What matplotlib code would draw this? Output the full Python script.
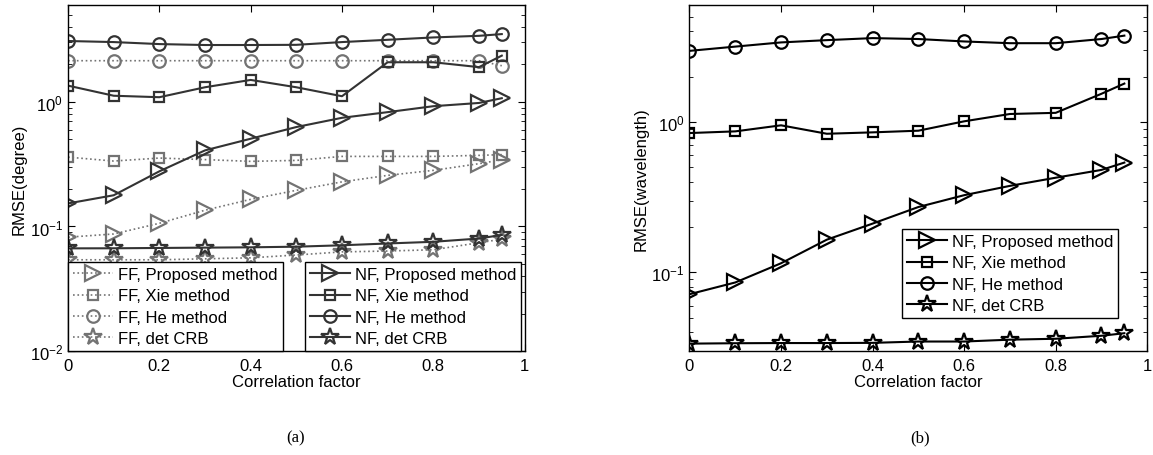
import numpy as np
import matplotlib
matplotlib.use("Agg")
import matplotlib.pyplot as plt
from matplotlib.ticker import LogLocator, NullFormatter

plt.rcParams['font.family'] = ['Liberation Sans', 'DejaVu Sans']
plt.rcParams['mathtext.fontset'] = 'custom'
plt.rcParams['mathtext.rm'] = 'Liberation Sans'
plt.rcParams['mathtext.it'] = 'Liberation Sans'
plt.rcParams['mathtext.default'] = 'regular'
plt.rcParams['font.size'] = 12

# dane - współczynnik korelacji
rho = [0, 0.1, 0.2, 0.3, 0.4, 0.5, 0.6, 0.7, 0.8, 0.9, 0.95]

# (a) RMSE w stopniach
ff_prop = [0.082, 0.087, 0.106, 0.135, 0.165, 0.195, 0.228, 0.257, 0.282, 0.319, 0.343]
ff_xie = [0.36, 0.335, 0.354, 0.344, 0.333, 0.339, 0.365, 0.365, 0.365, 0.372, 0.377]
ff_he = [2.14, 2.14, 2.14, 2.14, 2.14, 2.14, 2.14, 2.14, 2.14, 2.14, 1.95]
ff_crb = [0.054, 0.054, 0.054, 0.055, 0.056, 0.059, 0.0625, 0.0635, 0.065, 0.074, 0.079]
nf_prop_a = [0.153, 0.178, 0.277, 0.408, 0.506, 0.628, 0.745, 0.827, 0.923, 0.98, 1.07]
nf_xie_a = [1.35, 1.12, 1.09, 1.31, 1.50, 1.31, 1.11, 2.08, 2.08, 1.90, 2.35]
nf_he_a = [3.08, 3.02, 2.91, 2.86, 2.86, 2.87, 3.02, 3.15, 3.29, 3.39, 3.50]
nf_crb_a = [0.0667, 0.0668, 0.0672, 0.0676, 0.068, 0.0688, 0.0706, 0.073, 0.0753, 0.080, 0.0855]

# (b) RMSE w długościach fali
nf_prop_b = [0.0716, 0.0857, 0.115, 0.165, 0.211, 0.272, 0.326, 0.376, 0.426, 0.48, 0.537]
nf_xie_b = [0.844, 0.866, 0.95, 0.835, 0.853, 0.875, 1.01, 1.13, 1.15, 1.54, 1.80]
nf_he_b = [2.97, 3.17, 3.38, 3.50, 3.61, 3.56, 3.43, 3.34, 3.34, 3.56, 3.75]
nf_crb_b = [0.0336, 0.0338, 0.0339, 0.0339, 0.034, 0.0347, 0.0347, 0.0357, 0.0362, 0.0379, 0.0394]

labels = ["Proposed method", "Xie method", "He method", "det CRB"]
markers = ['>', 's', 'o', '*']
msizes = [11, 7.5, 9, 13]

fig = plt.figure(figsize=(11.53, 4.56), dpi=100)
ax1 = fig.add_axes([0.059, 0.228, 0.396, 0.759])
ax2 = fig.add_axes([0.598, 0.228, 0.397, 0.759])

ff_col = '0.45'
nf_col = '0.2'

ff_lines = []
for data, mk, ms, lab in zip([ff_prop, ff_xie, ff_he, ff_crb], markers, msizes, labels):
    l, = ax1.plot(rho, data, linestyle=':', color=ff_col, marker=mk, markersize=ms,
                  markerfacecolor='none', markeredgecolor=ff_col, markeredgewidth=1.6,
                  linewidth=1.2, label="FF, " + lab)
    ff_lines.append(l)
nf_lines = []
for data, mk, ms, lab in zip([nf_prop_a, nf_xie_a, nf_he_a, nf_crb_a], markers, msizes, labels):
    l, = ax1.plot(rho, data, linestyle='-', color=nf_col, marker=mk, markersize=ms,
                  markerfacecolor='none', markeredgecolor=nf_col, markeredgewidth=1.6,
                  linewidth=1.5, label="NF, " + lab)
    nf_lines.append(l)

b_lines = []
for data, mk, ms, lab in zip([nf_prop_b, nf_xie_b, nf_he_b, nf_crb_b], markers, msizes, labels):
    l, = ax2.plot(rho, data, linestyle='-', color='black', marker=mk, markersize=ms,
                  markerfacecolor='none', markeredgecolor='black', markeredgewidth=1.6,
                  linewidth=1.5, label="NF, " + lab)
    b_lines.append(l)

for ax, ylo in [(ax1, 1e-2), (ax2, 0.03)]:
    ax.set_yscale('log')
    ax.set_xlim(0, 1)
    ax.set_ylim(ylo, 6)
    ax.set_xticks([0, 0.2, 0.4, 0.6, 0.8, 1])
    ax.set_xticklabels(['0', '0.2', '0.4', '0.6', '0.8', '1'])
    ax.yaxis.set_major_locator(LogLocator(base=10))
    ax.yaxis.set_minor_locator(LogLocator(base=10, subs=np.arange(2, 10)))
    ax.yaxis.set_minor_formatter(NullFormatter())
    ax.tick_params(which='both', direction='in', top=True, right=True, labelsize=12)
    ax.tick_params(axis='x', which='major', pad=5)
    ax.tick_params(which='major', length=5)
    ax.tick_params(which='minor', length=3)
    ax.set_xlabel("Correlation factor", fontsize=12, labelpad=1)
    for s in ax.spines.values():
        s.set_linewidth(1.0)

ax1.set_ylabel("RMSE(degree)", fontsize=12, labelpad=2)
ax2.set_ylabel("RMSE(wavelength)", fontsize=12, labelpad=2)

leg_kw = dict(fontsize=12, fancybox=False, edgecolor='black', framealpha=1,
              handlelength=2.4, handletextpad=0.3, labelspacing=0.38,
              borderpad=0.3, borderaxespad=0)
leg1 = ax1.legend(handles=ff_lines, loc='lower left', bbox_to_anchor=(0.0, 0.0), **leg_kw)
leg1.get_frame().set_linewidth(1.0)
ax1.add_artist(leg1)
leg2 = ax1.legend(handles=nf_lines, loc='lower right', bbox_to_anchor=(0.993, 0.0), **leg_kw)
leg2.get_frame().set_linewidth(1.0)
leg3 = ax2.legend(handles=b_lines, loc='lower right', bbox_to_anchor=(0.937, 0.095), **leg_kw)
leg3.get_frame().set_linewidth(1.0)

fig.text(296 / 1153, 1 - 438 / 456, "(a)", ha='center', va='center',
         fontsize=12, family=['Liberation Serif', 'DejaVu Serif'])
fig.text(920 / 1153, 1 - 438 / 456, "(b)", ha='center', va='center',
         fontsize=12, family=['Liberation Serif', 'DejaVu Serif'])

fig.savefig("out.png", dpi=100)
